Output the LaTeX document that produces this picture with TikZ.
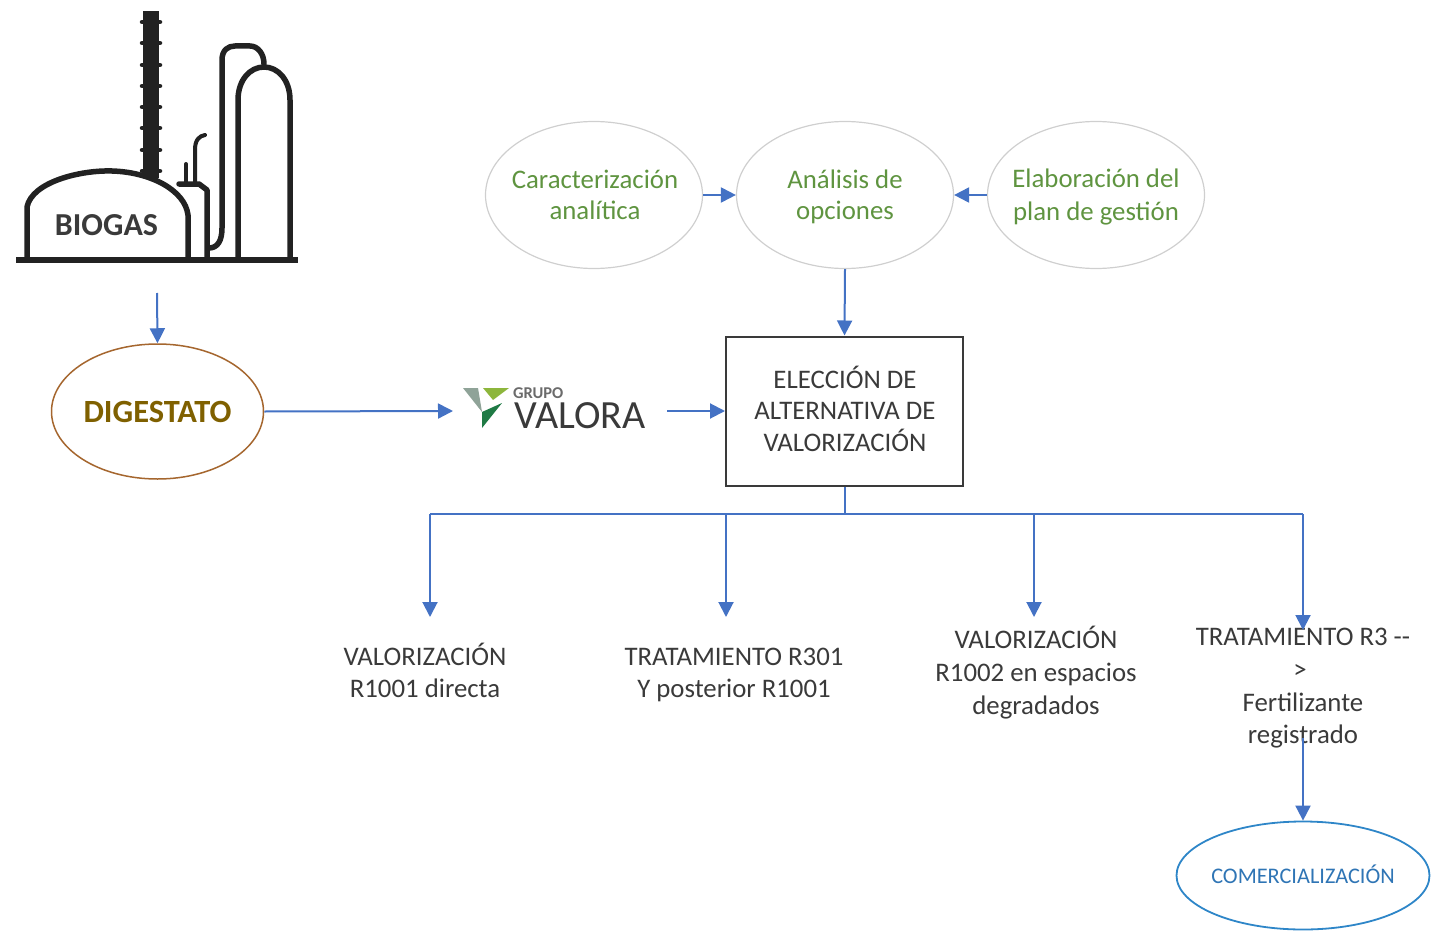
\documentclass[tikz,border=0pt]{standalone}
\usepackage{fontspec}
\setmainfont{Carlito}
\usetikzlibrary{arrows.meta,shapes.geometric,calc}
\definecolor{flow}{HTML}{4472C4}
\definecolor{greentxt}{HTML}{5F9440}
\definecolor{ringgray}{HTML}{CFCFCF}
\definecolor{brownring}{HTML}{A5662E}
\definecolor{olivetxt}{HTML}{7F6000}
\definecolor{darktxt}{HTML}{3A3A3A}
\definecolor{bluering}{HTML}{2E86C8}
\definecolor{bluetxt}{HTML}{2F75B5}
\definecolor{plant}{HTML}{222222}
\definecolor{logogray}{HTML}{8FA398}
\definecolor{logolime}{HTML}{8DB63C}
\definecolor{logodark}{HTML}{1F7A45}
\definecolor{logotxt}{HTML}{6B6B6B}
\tikzset{
 flowline/.style={draw=flow,line width=2pt,-{Triangle[length=15pt,width=15pt]}},
 flowplain/.style={draw=flow,line width=2pt},
 greenell/.style={ellipse,draw=ringgray,line width=1.2pt,minimum width=217pt,minimum height=147pt,inner sep=0pt},
 greentext/.style={align=center,inner sep=0pt,text=greentxt,font=\fontsize{26.8}{31}\selectfont},
 lbl/.style={align=center,text=darktxt,font=\fontsize{26.8}{32.7}\selectfont,inner sep=0pt},
 plantline/.style={draw=plant,line width=5.5pt,line cap=round,line join=round},
}
\begin{document}
\begin{tikzpicture}[x=1pt,y=-1pt]
\useasboundingbox (0,0) rectangle (1437,931);
% plant icon
\draw[plant,line width=6.5pt] (16,260) -- (298,260);
\fill[plant] (143,11) rectangle (159,178);
\foreach \yy in {22,43,65,86,107,128,150,171}{\draw[plant,line width=4.5pt,line cap=round] (142,\yy) -- (160,\yy);}
\draw[plantline] (27,258) -- (27,207) .. controls (32,182) and (80,170) .. (112,171) .. controls (150,172) and (185,190) .. (188,215) -- (188,258);
\draw[plantline] (179,184) -- (199,184) -- (207,190) -- (207,258);
\draw[plantline,line width=4pt] (186,184) -- (186,164);
\draw[plantline,line width=4pt] (195,182) -- (195,150) .. controls (195,140) and (199,136) .. (205,135);
\draw[plantline] (209,248) .. controls (218,248) and (222,240) .. (222,228) -- (222,60) .. controls (222,50) and (228,46) .. (235,46) -- (250,46) .. controls (258,46) and (264,54) .. (264,64);
\draw[plantline] (238,258) -- (238,100) .. controls (238,80) and (250,67) .. (264,67) .. controls (278,67) and (290,80) .. (290,100) -- (290,258);
\node[inner sep=0pt,text=darktxt,font=\bfseries\fontsize{32}{32}\selectfont] (biogas) at (106.5,225) {BIOGAS};
\coordinate (plantbase) at (157,293);
% top ellipses
\node[greenell] (car) at (594,195) {};
\node[greenell] (ana) at (845,195) {};
\node[greenell] (ela) at (1096,195) {};
\node[greentext] (cart) at (595,195) {Caracterización\\analítica};
\node[greentext] (anat) at (845,196.5) {Análisis de\\opciones};
\node[greentext,font=\fontsize{26.8}{32.5}\selectfont] (elat) at (1096,197) {Elaboración del\\plan de gestión};
% box
\node[draw=darktxt,line width=2pt,minimum width=237pt,minimum height=149pt,inner sep=0pt] (box) at (844.5,411) {};
\node[lbl,font=\fontsize{26.8}{31.6}\selectfont] (boxt) at (845,408.5) {ELECCIÓN DE\\ALTERNATIVA DE\\VALORIZACIÓN};
% digestato
\node[ellipse,draw=brownring,line width=1.5pt,minimum width=212pt,minimum height=135pt,inner sep=0pt] (dig) at (157.5,411.5) {};
\node[inner sep=0pt,text=olivetxt,font=\bfseries\fontsize{32.4}{32}\selectfont] (digt) at (157.5,412) {DIGESTATO};
% logo
\fill[logogray] (463,388) -- (478,388) -- (482,412) -- cycle;
\fill[logolime] (483,388) -- (509,388) -- (493,400) -- cycle;
\fill[logodark] (502,403) -- (482,412) -- (482,428) -- cycle;
\node[anchor=west,inner sep=0pt,text=logotxt,font=\bfseries\fontsize{16.5}{17}\selectfont] (grupo) at (513,393) {GRUPO};
\node[anchor=west,inner sep=0pt,text=darktxt,font=\fontsize{40}{40}\selectfont] (valora) at (514,416) {VALORA};
\coordinate (logoin) at (453,411);
\coordinate (logoout) at (667,411);
% labels
\node[lbl] (v1) at (425,670.5) {VALORIZACIÓN\\R1001 directa};
\node[lbl] (v2) at (734,675) {TRATAMIENTO R301\\Y posterior R1001};
\node[lbl] (v3) at (1036,672.5) {VALORIZACIÓN\\R1002 en espacios\\degradados};
\node[lbl] (v4a) at (1303,637) {TRATAMIENTO R3 {-}{-}};
\node[lbl] (v4b) at (1300,671) {>};
\node[lbl] (v4c) at (1303,702) {Fertilizante};
\node[lbl] (v4d) at (1303,736) {registrado};
\node[ellipse,draw=bluering,line width=1.8pt,minimum width=253pt,minimum height=108pt,inner sep=0pt] (com) at (1303,875.5) {};
\node[inner sep=0pt,text=bluetxt,font=\fontsize{22.3}{23}\selectfont] (comt) at (1303,874) {COMERCIALIZACIÓN};
% connectors
\coordinate (bus) at (844.5,514);
\coordinate (tip1) at (430,617);
\coordinate (tip2) at (726,617);
\coordinate (tip3) at (1034,617);
\coordinate (tip4) at (1303,630);
\coordinate (v4low) at (1303,738);
\path[flowline] (car.east) -- (ana.west);
\path[flowline] (ela.west) -- (ana.east);
\path[flowline] (ana.south) -- (box.north);
\path[flowline] (plantbase) -- (dig.north);
\path[flowline] (dig.east) -- (logoin);
\path[flowline] (logoout) -- (box.west);
\path[flowplain] (box.south) -- (bus);
\path[flowplain] (tip1 |- bus) -- (tip4 |- bus);
\path[flowline] (tip1 |- bus) -- (tip1);
\path[flowline] (tip2 |- bus) -- (tip2);
\path[flowline] (tip3 |- bus) -- (tip3);
\path[flowline] (tip4 |- bus) -- (tip4);
\path[flowline] (v4low) -- (com.north);
\end{tikzpicture}
\end{document}
